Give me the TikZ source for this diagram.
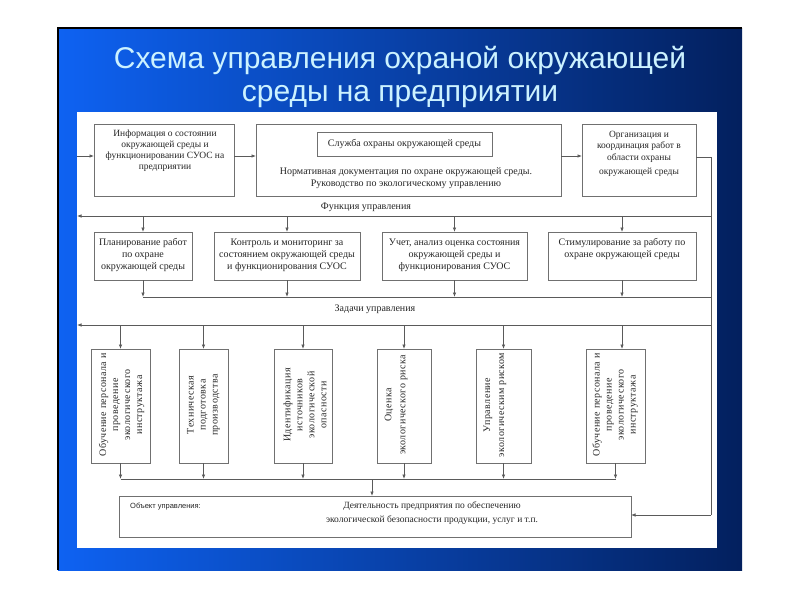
\documentclass[tikz,border=0pt]{standalone}
\usepackage{fontspec}
\setmainfont{Liberation Serif}
\newfontfamily\titlefont{Liberation Sans}
\newfontfamily\vfont[LetterSpace=4.5]{Liberation Serif}
\usetikzlibrary{arrows.meta}
\definecolor{titlecol}{HTML}{CCF2FF}
\definecolor{blueL}{HTML}{0E62F2}
\definecolor{blueR}{HTML}{03205E}
\definecolor{linecol}{HTML}{5A5A5A}
\definecolor{boxcol}{HTML}{707070}
\definecolor{txtcol}{HTML}{262626}
\begin{document}
\begin{tikzpicture}[x=1pt,y=-1pt,
  boxs/.style={draw=boxcol,line width=0.8pt,inner sep=0pt,outer sep=0pt,fill=white},
  txt/.style={font=\fontsize{10}{12}\selectfont,align=center,inner sep=0pt,text=txtcol},
  vtxt/.style={txt,font=\vfont\fontsize{10}{12}\selectfont,rotate=90},
  conn/.style={draw=linecol,line width=0.7pt},
  arr/.style={conn,-{Latex[length=4.5pt,width=3.5pt]}},
  ttl/.style={font=\titlefont\fontsize{30}{30}\selectfont,text=titlecol,inner sep=0pt}
]
\useasboundingbox (0,0) rectangle (800,600);
\fill[white] (0,0) rectangle (800,600);
% slide
\shade[left color=blueL,right color=blueR] (58,28) rectangle (742,570);
\draw[black,line width=1.5pt] (58,570) -- (58,28) -- (742,28);
\fill[white] (77,112) rectangle (717,548);
% title
\node[ttl] (t1) at (400,60) {Схема управления охраной окружающей};
\node[ttl] (t2) at (400,97) {среды на предприятии};

% top row
\node[boxs,minimum width=140pt,minimum height=72pt] (info) at (164,160) {};
\node[txt,font=\fontsize{9.5}{11}\selectfont] (infot) at (165,151) {Информация о состоянии\\окружающей среды и\\функционировании СУОС на\\предприятии};
\node[boxs,minimum width=305pt,minimum height=72pt] (sl) at (408.5,160) {};
\node[boxs,minimum width=175pt,minimum height=24pt] (slin) at (404.5,144) {};
\node[txt] (slint) at (404.5,144) {Служба охраны окружающей среды};
\node[txt] (slt) at (406,178.5) {Нормативная документация по охране окружающей среды.\\Руководство по экологическому управлению};
\node[boxs,minimum width=114pt,minimum height=72pt] (org) at (639,160) {};
\node[txt,font=\fontsize{9.5}{11.5}\selectfont] (orgt) at (639,154) {Организация и\\координация работ в\\области охраны\\[3pt]окружающей среды};

\coordinate (inL) at (77,156);
\coordinate (busT) at (711,157);
\coordinate (busB) at (711,515);
\draw[arr] (inL) -- (info.west |- inL);
\draw[arr] (info.east |- inL) -- (sl.west |- inL);
\draw[arr] (sl.east |- inL) -- (org.west |- inL);

% function line
\coordinate (fL) at (77,216);
\coordinate (fR) at (711,216);
\draw[arr] (fR) -- (fL);
\node[txt] (flab) at (366,207) {Функция управления};

% row 2
\node[boxs,minimum width=98pt,minimum height=48pt] (plan) at (143,256) {};
\node[txt] (plant) at (143,255) {Планирование работ\\по охране\\окружающей среды};
\node[boxs,minimum width=146pt,minimum height=48pt] (kon) at (287,256) {};
\node[txt] (kont) at (287,255) {Контроль и мониторинг за\\состоянием окружающей среды\\и функционирования СУОС};
\node[boxs,minimum width=145pt,minimum height=48pt] (uch) at (454.5,256) {};
\node[txt] (ucht) at (454.5,255) {Учет, анализ оценка состояния\\окружающей среды и\\функционирования СУОС};
\node[boxs,minimum width=148pt,minimum height=48pt] (stim) at (622,256) {};
\node[txt] (stimt) at (622,249) {Стимулирование за работу по\\охране окружающей среды};

\foreach \n in {plan,kon,uch,stim}{
  \draw[arr] (fL -| \n.north) -- (\n.north);
}
\coordinate (cR) at (711,297);
\foreach \n in {plan,kon,uch,stim}{
  \draw[arr] (\n.south) -- (cR -| \n.south);
}
\draw[conn] (cR -| plan.south) -- (cR);

% tasks line
\coordinate (zL) at (77,325);
\coordinate (zR) at (711,325);
\draw[arr] (zR) -- (zL);
\node[txt] (zlab) at (375,309) {Задачи управления};

% bus
\draw[conn] (org.east |- busT) -- (busT) -- (busB);

% row 3
\node[boxs,minimum width=59pt,minimum height=114pt] (b1) at (120.5,406) {};
\node[boxs,minimum width=49pt,minimum height=114pt] (b2) at (203.5,406) {};
\node[boxs,minimum width=58pt,minimum height=114pt] (b3) at (303,406) {};
\node[boxs,minimum width=54pt,minimum height=114pt] (b4) at (404,406) {};
\node[boxs,minimum width=55pt,minimum height=114pt] (b5) at (503.5,406) {};
\node[boxs,minimum width=59pt,minimum height=114pt] (b6) at (615.5,406) {};
\node[vtxt] (b1t) at (121.5,405) {Обучение персонала и\\проведение\\экологического\\инструктажа};
\node[vtxt] (b2t) at (203.5,405) {Техническая\\подготовка\\производства};
\node[vtxt] (b3t) at (305,405) {Идентификация\\источников\\экологической\\опасности};
\node[vtxt,font=\vfont\fontsize{10}{14}\selectfont] (b4t) at (396,405) {Оценка\\экологического риска};
\node[vtxt,font=\vfont\fontsize{10}{14}\selectfont] (b5t) at (495,405) {Управление\\экологическим риском};
\node[vtxt] (b6t) at (615,405) {Обучение персонала и\\проведение\\экологического\\инструктажа};

\foreach \n in {b1,b2,b3,b4,b5}{
  \draw[arr] (zL -| \n.north) -- (\n.north);
}
\draw[arr] (zL -| stim.south) -- (b6.north -| stim.south);

% bottom collector
\coordinate (cb) at (372,479);
\foreach \n in {b1,b2,b3,b4,b5,b6}{
  \draw[arr] (\n.south) -- (cb -| \n.south);
}
\draw[conn] (cb -| b1.south) -- (cb -| b6.south);

% object box
\node[boxs,minimum width=512pt,minimum height=41pt] (obj) at (375,516.5) {};
\node[txt,font=\titlefont\fontsize{7.5}{9}\selectfont,anchor=west] (objl) at (130,507) {Объект управления:};
\node[txt,font=\fontsize{9.5}{14}\selectfont] (objt) at (432,513) {Деятельность предприятия по обеспечению\\экологической безопасности продукции, услуг и т.п.};
\draw[arr] (cb) -- (cb |- obj.north);
\draw[arr] (busB) -- (obj.east |- busB);
\end{tikzpicture}
\end{document}
